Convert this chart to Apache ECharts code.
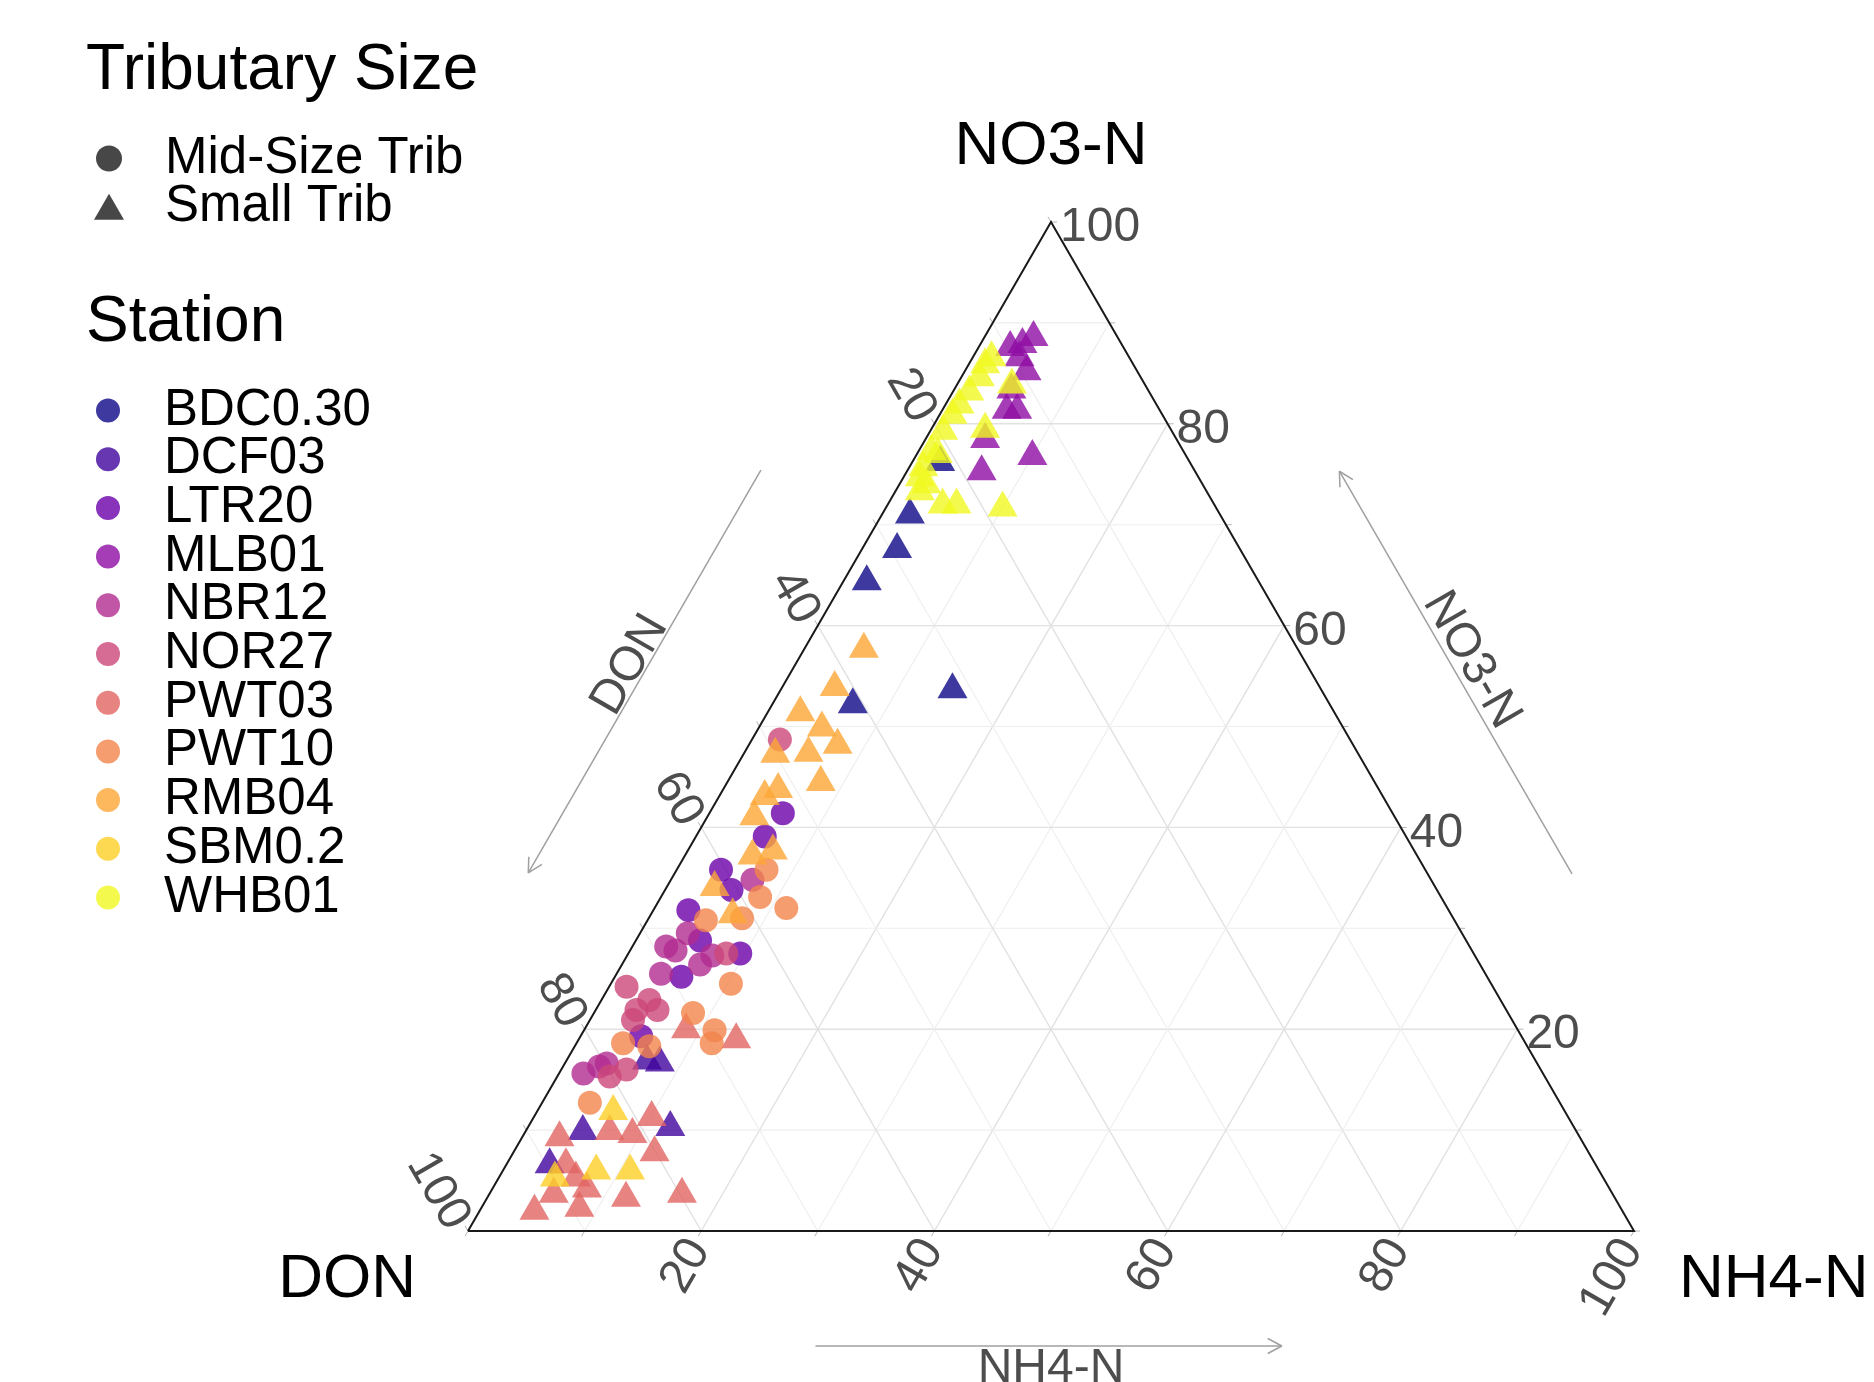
<!DOCTYPE html>
<html><head><meta charset="utf-8">
<script src="https://cdn.jsdelivr.net/npm/echarts@6/dist/echarts.min.js"></script>
<style>html,body{margin:0;padding:0;background:#fff}#c{width:1874px;height:1382px}</style>
</head><body><div id="c"></div>
<script>
// ---- data: each point is [DON, NH4-N, NO3-N] (%) ----
const stations = ['BDC0.30','DCF03','LTR20','MLB01','NBR12','NOR27','PWT03','PWT10','RMB04','SBM0.2','WHB01'];
const stationColors = ['#0D0887','#41049D','#6A00A8','#8F0DA4','#B12A90','#CC4778','#E16462','#F2844B','#FCA636','#FCCE25','#F0F921'];
const stationSize = ['Small Trib','Small Trib','Mid-Size Trib','Small Trib','Mid-Size Trib','Mid-Size Trib','Small Trib','Mid-Size Trib','Small Trib','Small Trib','Small Trib'];
const sizeNames = ['Mid-Size Trib','Small Trib'];

const BDC030 = [[21.2,2.2,76.6],[26.4,2.2,71.4],[29.2,2.8,68.0],[33.4,1.8,64.8],[31.4,14.5,54.1],[40.7,6.7,52.6]];
const DCF03 = [[85.0,4.7,10.3],[77.3,12.0,10.7],[89.5,3.5,7.0],[76.0,6.7,17.3],[75.0,7.9,17.1]];
const LTR20 = [[52.3,6.3,41.4],[55.0,5.9,39.1],[60.5,5.7,33.8],[65.2,3.0,31.8],[62.9,9.6,27.5],[60.4,3.8,35.8],[69.1,5.7,25.2],[75.5,5.2,19.3],[65.7,5.5,28.8]];
const MLB01 = [[7.0,4.0,89.0],[8.3,3.4,88.3],[9.5,2.5,88.0],[9.2,3.8,87.0],[9.3,5.1,85.6],[11.5,4.7,83.8],[12.9,5.3,81.8],[12.0,6.2,81.8],[16.2,4.9,78.9],[13.0,9.8,77.2],[18.1,6.2,75.7]];
const NBR12 = [[58.2,7.0,34.8],[66.4,4.1,29.5],[68.9,2.9,28.2],[68.3,3.9,27.8],[65.4,7.3,27.3],[66.9,6.7,26.4],[70.7,3.8,25.5],[79.8,3.6,16.6],[80.6,3.1,16.3],[82.3,2.1,15.6]];
const NOR27 = [[48.9,2.4,48.7],[64.1,8.4,27.5],[74.3,1.5,24.2],[73.0,4.1,22.9],[74.6,3.5,21.9],[72.8,5.3,21.9],[75.4,3.7,20.9],[80.2,4.5,15.3],[78.4,5.6,16.0]];
const PWT03 = [[71.1,8.5,20.4],[67.3,13.3,19.4],[82.7,7.0,10.3],[80.9,9.1,10.0],[78.4,9.9,11.7],[79.9,11.9,8.2],[87.3,3.0,9.7],[88.1,4.9,7.0],[87.9,6.4,5.7],[87.5,7.9,4.6],[90.6,5.3,4.1],[93.1,4.5,2.4],[89.1,8.2,2.7],[84.6,11.7,3.7],[79.6,16.3,4.1]];
const PWT10 = [[56.5,7.7,35.8],[58.4,8.5,33.1],[56.7,11.3,32.0],[61.0,8.0,31.0],[64.2,5.0,30.8],[65.2,10.3,24.5],[69.9,8.5,21.6],[68.9,11.2,19.9],[69.8,11.6,18.6],[77.4,4.0,18.6],[75.3,6.4,18.3],[83.2,4.1,12.7]];
const RMB04 = [[37.0,4.9,58.1],[41.4,4.3,54.3],[45.6,2.6,51.8],[44.5,5.2,50.3],[44.0,7.4,48.6],[46.9,5.3,47.8],[49.8,2.5,47.7],[47.3,7.8,44.9],[51.3,4.5,44.2],[52.8,3.7,43.5],[54.7,3.8,41.5],[54.8,7.1,38.1],[56.8,5.6,37.6],[61.6,3.9,34.5],[61.4,6.8,31.8]];
const SBM02 = [[81.4,6.3,12.3],[89.7,4.6,5.7],[85.8,7.8,6.4],[82.9,10.7,6.4]];
const WHB01 = [[11.6,1.4,87.0],[13.6,1.4,85.0],[15.2,1.2,83.6],[16.7,1.0,82.3],[17.8,0.9,81.3],[19.4,0.9,79.7],[21.4,0.9,77.7],[22.9,1.0,76.1],[23.5,2.1,74.4],[23.1,4.5,72.4],[21.9,5.7,72.4],[18.1,9.8,72.1],[12.5,1.2,86.3],[23.7,1.2,75.1],[11.2,4.5,84.3],[15.7,4.4,79.9],[21.0,1.6,77.4],[24.4,1.9,73.7]];
const stationData = [BDC030, DCF03, LTR20, MLB01, NBR12, NOR27, PWT03, PWT10, RMB04, SBM02, WHB01];

const tickValues = [20, 40, 60, 80, 100];
const gridSteps = [10, 20, 30, 40, 50, 60, 70, 80, 90];
const tickSteps = [0, 10, 20, 30, 40, 50, 60, 70, 80, 90, 100];
const vertexNames = ['DON', 'NH4-N', 'NO3-N'];
const arrowNames = ['DON', 'NH4-N', 'NO3-N'];
const legendTitles = ['Tributary Size', 'Station'];

// ---- ternary -> cartesian helper ----
const SQ = Math.sqrt(3) / 2;
function toXY(p) { const s = p[0] + p[1] + p[2]; return [(p[1] + p[2] / 2) / s * 100, p[2] * SQ / s * 100]; }
const FONT = '"Liberation Sans", Arial, Helvetica, sans-serif';
const GRAY = '#4d4d4d';

function renderGrid(params, api) {
  const P = (d, h, n) => api.coord(toXY([d, h, n]));
  const ch = [];
  gridSteps.forEach(k => {
    const major = k % 20 === 0;
    const st = { stroke: major ? '#e1e1e1' : '#eeeeee', lineWidth: major ? 1.4 : 1.1 };
    [[P(100 - k, 0, k), P(0, 100 - k, k)], [P(100 - k, k, 0), P(0, k, 100 - k)], [P(k, 0, 100 - k), P(k, 100 - k, 0)]]
      .forEach(([a, b]) => ch.push({ type: 'line', shape: { x1: a[0], y1: a[1], x2: b[0], y2: b[1] }, style: st }));
  });
  return { type: 'group', children: ch };
}

function edgePoint(A, B, C, t, off) {
  const dx = B[0] - A[0], dy = B[1] - A[1], len = Math.hypot(dx, dy);
  let nx = -dy / len, ny = dx / len;
  const mx = (A[0] + B[0]) / 2 - C[0], my = (A[1] + B[1]) / 2 - C[1];
  if (nx * mx + ny * my < 0) { nx = -nx; ny = -ny; }
  return [A[0] + dx * t + nx * off, A[1] + dy * t + ny * off];
}

function arrow(A, B, C, t0, t1, off, ch) {
  const p0 = edgePoint(A, B, C, t0, off), p1 = edgePoint(A, B, C, t1, off);
  const st = { stroke: '#a0a0a0', lineWidth: 1.5 };
  ch.push({ type: 'line', shape: { x1: p0[0], y1: p0[1], x2: p1[0], y2: p1[1] }, style: st });
  const ux = (p1[0] - p0[0]), uy = (p1[1] - p0[1]), l = Math.hypot(ux, uy);
  const u = [ux / l, uy / l], a = 28 * Math.PI / 180, hl = 16;
  [a, -a].forEach(ang => {
    const c = Math.cos(ang), s = Math.sin(ang);
    const v = [u[0] * c - u[1] * s, u[0] * s + u[1] * c];
    ch.push({ type: 'line', shape: { x1: p1[0], y1: p1[1], x2: p1[0] - v[0] * hl, y2: p1[1] - v[1] * hl }, style: st });
  });
}

function txt(x, y, text, o) {
  return { type: 'text', x: x, y: y, rotation: o.rot || 0,
    style: { text: text, x: 0, y: 0, fill: o.color || GRAY, fontSize: o.size || 48, fontFamily: FONT,
      align: o.align || 'center', verticalAlign: o.va || 'middle' } };
}

function renderAxes(params, api) {
  const P = (d, h, n) => api.coord(toXY([d, h, n]));
  const L = P(100, 0, 0), R = P(0, 100, 0), T = P(0, 0, 100);
  const ch = [];
  // ticks
  const tst = { stroke: '#b5b5b5', lineWidth: 1 };
  tickSteps.forEach(k => {
    const a = P(0, 100 - k, k); ch.push({ type: 'line', shape: { x1: a[0], y1: a[1], x2: a[0] + 6, y2: a[1] }, style: tst });
    const b = P(k, 0, 100 - k); ch.push({ type: 'line', shape: { x1: b[0], y1: b[1], x2: b[0] - 3, y2: b[1] - 5.2 }, style: tst });
    const c = P(100 - k, k, 0); ch.push({ type: 'line', shape: { x1: c[0], y1: c[1], x2: c[0] - 3, y2: c[1] + 5.2 }, style: tst });
  });
  // border
  ch.push({ type: 'polyline', shape: { points: [L, R, T, L] }, style: { stroke: '#1a1a1a', lineWidth: 2, fill: null, lineJoin: 'miter' } });
  // tick labels
  tickValues.forEach(k => {
    const a = P(0, 100 - k, k); ch.push(txt(a[0] + 9, a[1] + 6, String(k), { align: 'left' }));
    const b = P(k, 0, 100 - k); ch.push(txt(b[0] - 10, b[1] - 5, String(k), { align: 'right', rot: -Math.PI / 3 }));
    const c = P(100 - k, k, 0); ch.push(txt(c[0] - 2, c[1] + 12, String(k), { align: 'right', rot: Math.PI / 3 }));
  });
  // vertex titles
  ch.push(txt(L[0] - 52, L[1] + 49, vertexNames[0], { align: 'right', size: 62, color: '#000' }));
  ch.push(txt(R[0] + 45, R[1] + 49, vertexNames[1], { align: 'left', size: 62, color: '#000' }));
  ch.push(txt(T[0], T[1] - 75, vertexNames[2], { align: 'center', size: 62, color: '#000' }));
  // arrows
  arrow(L, T, R, 0.691, 0.292, 127, ch);
  arrow(R, T, L, 0.292, 0.691, 125, ch);
  arrow(L, R, T, 0.298, 0.698, 115, ch);
  const pl = edgePoint(L, T, R, 0.49, 143); ch.push(txt(pl[0], pl[1], arrowNames[0], { rot: Math.PI / 3 }));
  const pr = edgePoint(R, T, L, 0.494, 145); ch.push(txt(pr[0], pr[1], arrowNames[2], { rot: -Math.PI / 3 }));
  const pb = edgePoint(L, R, T, 0.5, 114); ch.push(txt(pb[0], pb[1], arrowNames[1], { va: 'top' }));
  return { type: 'group', children: ch };
}

const series = [{ type: 'custom', name: 'grid', coordinateSystem: 'cartesian2d', z: 1, silent: true, clip: false, data: [[0, 0]], renderItem: renderGrid }];
stations.forEach((st, i) => {
  const small = stationSize[i] === 'Small Trib';
  series.push({ type: 'scatter', name: st, z: 2, clip: false, symbol: small ? 'triangle' : 'circle', symbolSize: small ? [30, 26] : 24,
    itemStyle: { color: stationColors[i], opacity: 0.8 }, emphasis: { disabled: true },
    data: stationData[i].map(p => { const xy = toXY(p); return [xy[0], xy[1], p[0], p[1], p[2]]; }) });
});
series.push({ type: 'scatter', name: sizeNames[0], symbol: 'circle', data: [] });
series.push({ type: 'scatter', name: sizeNames[1], symbol: 'triangle', data: [] });
series.push({ type: 'custom', name: 'axes', coordinateSystem: 'cartesian2d', z: 3, silent: true, clip: false, data: [[0, 0]], renderItem: renderAxes });

const legText = (pad) => ({ color: '#000', fontFamily: FONT, fontSize: 51, rich: { a: { padding: [0, 0, 0, pad], fontSize: 51, lineHeight: 40, fontFamily: FONT, color: '#000' } } });

const option = {
  animation: false,
  backgroundColor: '#fff',
  title: [
    { text: legendTitles[0], left: 86, top: 39, padding: 0, textStyle: { fontSize: 64, fontWeight: 'normal', color: '#000', fontFamily: FONT } },
    { text: legendTitles[1], left: 86, top: 291, padding: 0, textStyle: { fontSize: 64, fontWeight: 'normal', color: '#000', fontFamily: FONT } }
  ],
  grid: { left: 468, right: 240, top: 222, bottom: 151, containLabel: false, outerBoundsMode: 'none' },
  xAxis: { type: 'value', min: 0, max: 100, show: false },
  yAxis: { type: 'value', min: 0, max: 100 * SQ, show: false },
  legend: [
    { orient: 'vertical', left: 94, top: 133, padding: 0, itemWidth: 30, itemHeight: 26, itemGap: -2.8, selectedMode: false,
      formatter: '{a|{name}}', textStyle: legText(36),
      data: sizeNames.map((n, i) => ({ name: n, icon: i === 0 ? 'circle' : 'triangle', itemStyle: { color: '#333', opacity: 0.9 } })) },
    { orient: 'vertical', left: 96, top: 385, padding: 0, itemWidth: 26, itemHeight: 24, itemGap: -2.3, selectedMode: false,
      formatter: '{a|{name}}', textStyle: legText(38),
      data: stations.map((n, i) => ({ name: n, icon: 'circle', itemStyle: { color: stationColors[i], opacity: 0.8 } })) }
  ],
  series: series
};
const chart = echarts.init(document.getElementById('c'), null, { renderer: 'canvas' });
chart.setOption(option);
</script></body></html>
